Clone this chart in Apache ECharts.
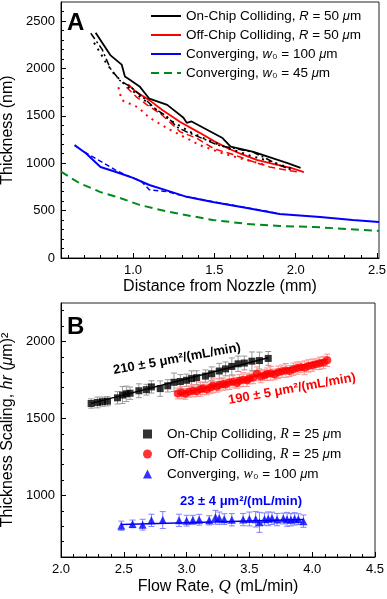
<!DOCTYPE html>
<html>
<head>
<meta charset="utf-8">
<script src="https://cdn.jsdelivr.net/npm/echarts@6/dist/echarts.min.js"></script>
<style>
html, body { margin: 0; padding: 0; background: #fff; }
#chart { width: 387px; height: 599px; }
</style>
</head>
<body>
<div id="chart"></div>
<script>
var FONT = "'Liberation Sans', Arial, sans-serif";
var SERIF = "'Liberation Serif', 'Times New Roman', serif";

// ---- panel A: thickness vs distance (mm, nm) ----
var aBlackX = [0.77, 0.86, 0.93, 0.95, 0.98, 1.04, 1.10, 1.21, 1.31, 1.33, 1.36, 1.55, 1.60, 1.74, 1.95, 2.03];
var aBlackY = [2375, 2140, 2040, 1915, 1880, 1810, 1680, 1615, 1480, 1425, 1440, 1265, 1175, 1120, 1000, 950];
var aBlack2X = [0.74, 0.81, 0.86, 0.92, 0.99, 1.07, 1.14, 1.21, 1.27, 1.33, 1.45, 1.52, 1.60, 1.74, 1.90, 1.97];
var aBlack2Y = [2370, 2200, 2000, 1870, 1800, 1680, 1570, 1490, 1380, 1330, 1245, 1190, 1165, 1115, 980, 930];
var aBlack3X = [0.76, 0.80, 0.83, 0.88, 0.93, 1.00, 1.08, 1.16, 1.25, 1.35, 1.45, 1.58, 1.72, 1.86, 1.98];
var aBlack3Y = [2270, 2160, 2070, 1950, 1860, 1760, 1650, 1540, 1430, 1330, 1250, 1160, 1080, 1010, 940];
var aRedX = [0.97, 1.02, 1.10, 1.18, 1.29, 1.41, 1.50, 1.58, 1.66, 1.76, 1.88, 1.97, 2.05];
var aRedY = [1830, 1750, 1665, 1560, 1435, 1320, 1230, 1160, 1100, 1035, 985, 950, 905];
var aRed2X = [0.96, 1.02, 1.09, 1.17, 1.29, 1.39, 1.50, 1.61, 1.73, 1.84, 1.95, 2.02];
var aRed2Y = [1800, 1700, 1610, 1520, 1330, 1265, 1150, 1095, 1020, 960, 925, 905];
var aRed3X = [0.91, 0.93, 1.03, 1.10, 1.18, 1.23, 1.35, 1.41, 1.55, 1.68, 1.80];
var aRed3Y = [1800, 1665, 1590, 1480, 1400, 1350, 1245, 1190, 1105, 1040, 990];
var aBlueX = [0.64, 0.71, 0.80, 0.90, 1.00, 1.10, 1.23, 1.33, 1.49, 1.70, 1.90, 2.15, 2.35, 2.512];
var aBlueY = [1190, 1105, 960, 905, 845, 770, 700, 645, 590, 528, 465, 432, 400, 380];
var aBlue2X = [0.70, 0.82, 0.89, 0.95, 1.05, 1.10, 1.21, 1.32, 1.50, 1.70, 1.90];
var aBlue2Y = [1120, 1000, 930, 878, 810, 720, 700, 650, 590, 530, 468];
var aGreenX = [0.557, 0.67, 0.80, 0.92, 1.04, 1.17, 1.29, 1.49, 1.70, 1.90, 2.11, 2.32, 2.512];
var aGreenY = [910, 790, 695, 633, 560, 506, 464, 401, 360, 338, 327, 306, 285];

var aTickX = [1.0, 1.5, 2.0, 2.5];
var aMinorX = [0.6, 0.7, 0.8, 0.9, 1.1, 1.2, 1.3, 1.4, 1.6, 1.7, 1.8, 1.9, 2.1, 2.2, 2.3, 2.4];
var aTickY = [0, 500, 1000, 1500, 2000, 2500];
var aMinorY = [100, 200, 300, 400, 600, 700, 800, 900, 1100, 1200, 1300, 1400, 1600, 1700, 1800, 1900, 2100, 2200, 2300, 2400, 2600];

// ---- panel B: thickness scaling vs flow rate ----
var bBlackX = [2.24, 2.29, 2.33, 2.37, 2.45, 2.49, 2.52, 2.55, 2.62, 2.68, 2.72, 2.79, 2.85, 2.90, 2.95, 3.00, 3.04, 3.08, 3.15, 3.20, 3.26, 3.31, 3.36, 3.41, 3.46, 3.52, 3.58, 3.65];
var bBlackY = [1597, 1604, 1609, 1612, 1634, 1652, 1660, 1664, 1680, 1687, 1705, 1694, 1712, 1735, 1740, 1748, 1759, 1765, 1775, 1790, 1808, 1822, 1838, 1855, 1860, 1872, 1876, 1890];
var bBlackErr = [30, 35, 30, 30, 40, 55, 50, 40, 45, 35, 40, 50, 40, 60, 45, 40, 50, 45, 40, 45, 50, 45, 55, 50, 45, 60, 55, 45];
var bRedX = [2.93, 2.96, 2.99, 3.02, 3.05, 3.08, 3.11, 3.13, 3.16, 3.19, 3.21, 3.24, 3.26, 3.29, 3.31, 3.34, 3.37, 3.40, 3.42, 3.45, 3.48, 3.50, 3.53, 3.56, 3.59, 3.62, 3.64, 3.67, 3.70, 3.73, 3.76, 3.79, 3.82, 3.85, 3.88, 3.91, 3.94, 3.97, 4.00, 4.03, 4.06, 4.09, 4.12];
var bRedY = [1662, 1668, 1660, 1674, 1680, 1677, 1690, 1696, 1688, 1701, 1712, 1706, 1718, 1724, 1720, 1733, 1738, 1731, 1745, 1752, 1748, 1760, 1766, 1790, 1772, 1781, 1788, 1793, 1786, 1800, 1807, 1812, 1808, 1820, 1827, 1832, 1829, 1841, 1846, 1852, 1858, 1863, 1878];
var bRedErr = [35, 40, 35, 35, 40, 35, 45, 40, 35, 40, 45, 35, 40, 40, 35, 45, 40, 35, 40, 45, 40, 35, 40, 45, 40, 35, 40, 45, 35, 40, 40, 45, 35, 40, 40, 35, 45, 40, 40, 35, 40, 40, 40];
var bBlueX = [2.48, 2.57, 2.65, 2.72, 2.81, 2.94, 3.00, 3.05, 3.10, 3.18, 3.23, 3.26, 3.30, 3.36, 3.45, 3.50, 3.55, 3.58, 3.62, 3.65, 3.68, 3.72, 3.77, 3.80, 3.83, 3.86, 3.89, 3.93];
var bBlueY = [803, 815, 810, 838, 840, 838, 836, 841, 842, 838, 858, 852, 846, 842, 843, 847, 845, 825, 846, 848, 851, 843, 850, 845, 842, 848, 846, 833];
var bBlueErr = [30, 25, 35, 40, 55, 40, 35, 30, 35, 30, 45, 40, 35, 40, 40, 45, 50, 65, 40, 45, 40, 40, 35, 45, 40, 40, 35, 40];
var bFitBlackX = [2.24, 3.65], bFitBlackY = [1598, 1894];
var bFitRedX = [2.93, 4.12], bFitRedY = [1658, 1884];
var bFitBlueX = [2.48, 3.93], bFitBlueY = [811, 844];

var bTickX = [2.0, 2.5, 3.0, 3.5, 4.0, 4.5];
var bMinorX = [2.1, 2.2, 2.3, 2.4, 2.6, 2.7, 2.8, 2.9, 3.1, 3.2, 3.3, 3.4, 3.6, 3.7, 3.8, 3.9, 4.1, 4.2, 4.3, 4.4];
var bTickY = [1000, 1500, 2000];
var bMinorY = [700, 800, 900, 1100, 1200, 1300, 1400, 1600, 1700, 1800, 1900, 2100, 2200];

var legendText = {
    'On-Chip Colliding, R = 50 um': 'On-Chip Colliding, {i|R} = 50 {i|μ}m',
    'Off-Chip Colliding, R = 50 um': 'Off-Chip Colliding, {i|R} = 50 {i|μ}m',
    'Converging, w0 = 100 um': 'Converging, {i|w}₀ = 100 {i|μ}m',
    'Converging, w0 = 45 um': 'Converging, {i|w}₀ = 45 {i|μ}m',
    'On-Chip Colliding, R = 25 um': 'On-Chip Colliding, {s|R} = 25 {i|μ}m',
    'Off-Chip Colliding, R = 25 um': 'Off-Chip Colliding, {s|R} = 25 {i|μ}m',
    'Converging, w0 = 100 um (B)': 'Converging, {s|w}₀ = 100 {i|μ}m'
};

function pairs(xs, ys) {
    return xs.map(function (x, i) { return [x, ys[i]]; });
}

function triples(xs, ys, es) {
    return xs.map(function (x, i) { return [x, ys[i], es[i]]; });
}

function lineA(name, xs, ys, color, type, width) {
    return {
        name: name, type: 'line', xAxisIndex: 0, yAxisIndex: 0,
        data: pairs(xs, ys), symbol: 'none', silent: true,
        itemStyle: {color: color},
        lineStyle: {color: color, type: type, width: width}
    };
}

function errorBars(color) {
    return function (params, api) {
        var x = api.value(0), y = api.value(1), e = api.value(2);
        var top = api.coord([x, y + e]), bot = api.coord([x, y - e]);
        var style = {stroke: color, lineWidth: 1};
        return {
            type: 'group',
            children: [
                {type: 'line', shape: {x1: top[0] - 3, y1: top[1], x2: top[0] + 3, y2: top[1]}, style: style},
                {type: 'line', shape: {x1: top[0], y1: top[1], x2: bot[0], y2: bot[1]}, style: style},
                {type: 'line', shape: {x1: bot[0] - 3, y1: bot[1], x2: bot[0] + 3, y2: bot[1]}, style: style}
            ]
        };
    };
}

function errSeries(xs, ys, es, color) {
    return {
        type: 'custom', name: 'err', xAxisIndex: 2, yAxisIndex: 2, silent: true,
        renderItem: errorBars(color), data: triples(xs, ys, es),
        encode: {x: 0, y: 1}, z: 1
    };
}

function mainAxis(grid, pos, min, max, ticks, fmt, name, gap, nameStyle) {
    return {
        type: 'value', gridIndex: grid, position: pos, min: min, max: max,
        axisLine: {show: true, onZero: false, lineStyle: {color: '#000', width: 1}},
        axisTick: {show: true, inside: true, length: 5, customValues: ticks, lineStyle: {color: '#000'}},
        axisLabel: {customValues: ticks, formatter: fmt, color: '#000', fontSize: 13, fontFamily: FONT, margin: 6},
        splitLine: {show: false},
        name: name, nameLocation: 'middle', nameGap: gap,
        nameTextStyle: nameStyle
    };
}

function minorAxis(grid, pos, min, max, ticks) {
    return {
        type: 'value', gridIndex: grid, position: pos, min: min, max: max,
        axisLine: {show: false, onZero: false},
        axisTick: {show: true, inside: true, length: 3, customValues: ticks, lineStyle: {color: '#000'}},
        axisLabel: {show: false},
        splitLine: {show: false}
    };
}

var richBase = {
    i: {fontStyle: 'italic', fontSize: 13, fontFamily: FONT, color: '#000'},
    s: {fontStyle: 'italic', fontSize: 14, fontFamily: SERIF, color: '#000'}
};
var nameStyleA = {fontSize: 16, fontFamily: FONT, color: '#000'};
var nameStyleBX = {fontSize: 16, fontFamily: FONT, color: '#000',
    rich: {q: {fontStyle: 'italic', fontSize: 17, fontFamily: SERIF, color: '#000'}}};
var nameStyleBY = {fontSize: 16, fontFamily: FONT, color: '#000',
    rich: {i: {fontStyle: 'italic', fontSize: 16, fontFamily: FONT, color: '#000'}}};

var fmt1 = function (v) { return v.toFixed(1); };
var fmt0 = function (v) { return String(v); };

var myChart = echarts.init(document.getElementById('chart'));

var option = {
    animation: false,
    backgroundColor: '#fff',
    textStyle: {fontFamily: FONT},
    grid: [
        {left: 61, top: 2, width: 318, height: 256, containLabel: false, outerBoundsMode: 'none',
            show: true, borderColor: '#222', borderWidth: 1, backgroundColor: 'transparent'},
        {left: 61, top: 303, width: 314, height: 254, containLabel: false, outerBoundsMode: 'none',
            show: true, borderColor: '#222', borderWidth: 1, backgroundColor: 'transparent'}
    ],
    xAxis: [
        mainAxis(0, 'bottom', 0.557, 2.512, aTickX, fmt1, 'Distance from Nozzle (mm)', 21, nameStyleA),
        minorAxis(0, 'bottom', 0.557, 2.512, aMinorX),
        mainAxis(1, 'bottom', 2.0, 4.5, bTickX, fmt1, '{a|Flow Rate, }{q|Q}{a| (mL/min)}', 21, nameStyleBX),
        minorAxis(1, 'bottom', 2.0, 4.5, bMinorX)
    ],
    yAxis: [
        mainAxis(0, 'left', 0, 2700, aTickY, fmt0, 'Thickness (nm)', 38, nameStyleA),
        minorAxis(0, 'left', 0, 2700, aMinorY),
        mainAxis(1, 'left', 600, 2250, bTickY, fmt0, 'Thickness Scaling, {i|hr} ({i|μ}m)²', 38, nameStyleBY),
        minorAxis(1, 'left', 600, 2250, bMinorY)
    ],
    legend: [
        {
            orient: 'vertical', left: 150, top: 9, padding: 0,
            itemWidth: 30, itemHeight: 12, itemGap: 5, selectedMode: false,
            itemStyle: {opacity: 0},
            data: ['On-Chip Colliding, R = 50 um', 'Off-Chip Colliding, R = 50 um', 'Converging, w0 = 100 um', 'Converging, w0 = 45 um'],
            formatter: function (n) { return legendText[n]; },
            textStyle: {fontSize: 13.5, fontFamily: FONT, color: '#000', rich: richBase}
        },
        {
            orient: 'vertical', left: 143, top: 427, padding: 0,
            itemWidth: 9, itemHeight: 9, itemGap: 6, selectedMode: false,
            data: ['On-Chip Colliding, R = 25 um', 'Off-Chip Colliding, R = 25 um', 'Converging, w0 = 100 um (B)'],
            formatter: function (n) { return legendText[n]; },
            textStyle: {fontSize: 13.5, fontFamily: FONT, color: '#000', padding: [0, 0, 0, 10], rich: richBase}
        }
    ],
    graphic: [
        {type: 'text', x: 67, y: 11, style: {text: 'A', font: 'bold 24px ' + FONT, fill: '#000'}},
        {type: 'text', x: 67, y: 315, style: {text: 'B', font: 'bold 24px ' + FONT, fill: '#000'}},
        {type: 'text', x: 177, y: 359, rotation: 0.18,
            style: {text: '210 ± 5 μm²/(mL/min)', font: 'bold 13px ' + FONT, fill: '#000', align: 'center', verticalAlign: 'middle', textAlign: 'center', textVerticalAlign: 'middle'}},
        {type: 'text', x: 292, y: 389, rotation: 0.18,
            style: {text: '190 ± 5 μm²/(mL/min)', font: 'bold 13px ' + FONT, fill: '#ff0000', align: 'center', verticalAlign: 'middle', textAlign: 'center', textVerticalAlign: 'middle'}},
        {type: 'text', x: 241, y: 501,
            style: {text: '23 ± 4 μm²/(mL/min)', font: 'bold 13px ' + FONT, fill: '#0000ff', align: 'center', verticalAlign: 'middle', textAlign: 'center', textVerticalAlign: 'middle'}}
    ],
    series: [
        lineA('Converging, w0 = 45 um', aGreenX, aGreenY, '#008a1c', [8, 5], 2),
        lineA('blue run 2', aBlue2X, aBlue2Y, '#0000ff', [5, 3], 1.5),
        lineA('Converging, w0 = 100 um', aBlueX, aBlueY, '#0000ff', 'solid', 2),
        lineA('red run 3', aRed3X, aRed3Y, '#ff0000', [2, 5], 2),
        lineA('red run 2', aRed2X, aRed2Y, '#ff0000', [7, 4], 1.5),
        lineA('Off-Chip Colliding, R = 50 um', aRedX, aRedY, '#ff0000', 'solid', 1.8),
        lineA('black run 3', aBlack3X, aBlack3Y, '#000', [2, 5], 2),
        lineA('black run 2', aBlack2X, aBlack2Y, '#000', [7, 3, 2, 3], 1.5),
        lineA('On-Chip Colliding, R = 50 um', aBlackX, aBlackY, '#000', 'solid', 1.8),

        errSeries(bBlackX, bBlackY, bBlackErr, '#999999'),
        errSeries(bRedX, bRedY, bRedErr, '#ff9090'),
        errSeries(bBlueX, bBlueY, bBlueErr, '#8080ff'),
        {
            name: 'On-Chip Colliding, R = 25 um', type: 'scatter', xAxisIndex: 2, yAxisIndex: 2,
            symbol: 'rect', symbolSize: 7, itemStyle: {color: '#000'}, data: pairs(bBlackX, bBlackY), z: 3
        },
        {
            name: 'Off-Chip Colliding, R = 25 um', type: 'scatter', xAxisIndex: 2, yAxisIndex: 2,
            symbol: 'circle', symbolSize: 8, itemStyle: {color: '#ff0000'}, data: pairs(bRedX, bRedY), z: 3
        },
        {
            name: 'Converging, w0 = 100 um (B)', type: 'scatter', xAxisIndex: 2, yAxisIndex: 2,
            symbol: 'triangle', symbolSize: 8, itemStyle: {color: '#0000ff'}, data: pairs(bBlueX, bBlueY), z: 3
        },
        {type: 'line', name: 'fit black', xAxisIndex: 2, yAxisIndex: 2, symbol: 'none', silent: true,
            data: pairs(bFitBlackX, bFitBlackY), lineStyle: {color: '#000', width: 1.5}, z: 4},
        {type: 'line', name: 'fit red', xAxisIndex: 2, yAxisIndex: 2, symbol: 'none', silent: true,
            data: pairs(bFitRedX, bFitRedY), lineStyle: {color: '#ff0000', width: 1.5}, z: 4},
        {type: 'line', name: 'fit blue', xAxisIndex: 2, yAxisIndex: 2, symbol: 'none', silent: true,
            data: pairs(bFitBlueX, bFitBlueY), lineStyle: {color: '#0000ff', width: 1.5}, z: 4}
    ]
};

myChart.setOption(option);
</script>
</body>
</html>
